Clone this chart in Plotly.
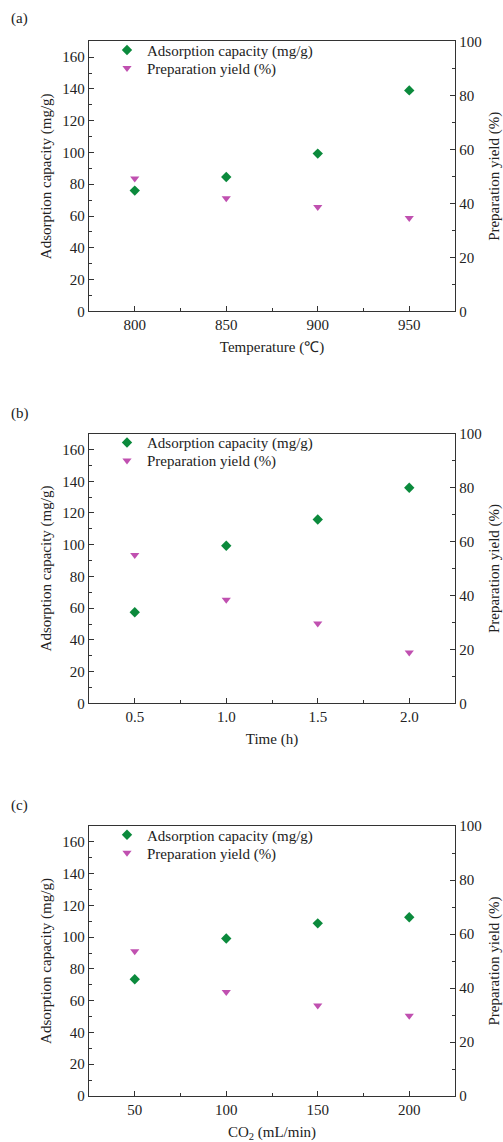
import plotly.graph_objects as go

# Panel (a): temperature
temp_x = [800, 850, 900, 950]
temp_ads = [76.0, 84.6, 99.3, 139.1]
temp_yield = [49.2, 41.9, 38.6, 34.6]

# Panel (b): time
time_x = [0.5, 1.0, 1.5, 2.0]
time_ads = [57.4, 99.3, 115.9, 135.9]
time_yield = [55.0, 38.4, 29.6, 18.8]

# Panel (c): CO2 flow
co2_x = [50, 100, 150, 200]
co2_ads = [73.5, 99.2, 108.7, 112.5]
co2_yield = [53.6, 38.5, 33.5, 29.7]

panel_labels = ["(a)", "(b)", "(c)"]
x_titles = ["Temperature (℃)", "Time (h)", "CO<sub>2</sub> (mL/min)"]
x_ranges = [[775, 975], [0.25, 2.25], [25, 225]]
x_ticks = [[800, 850, 900, 950], [0.5, 1.0, 1.5, 2.0], [50, 100, 150, 200]]
x_ticktext = [["800", "850", "900", "950"], ["0.5", "1.0", "1.5", "2.0"], ["50", "100", "150", "200"]]
x_minor = [25, 0.25, 25]

GREEN = "#0b8a3c"
MAGENTA = "#c050b0"
AXC = "#333333"
FONT = "Liberation Serif"
FS = 15
W, H = 503, 1142

# pixel geometry
px_left, px_right = 89, 455
panels_px = [(41.3, 311.3), (433.7, 703.3), (826, 1096)]
label_y_px = [19, 413, 805]

data = [(temp_x, temp_ads, temp_yield), (time_x, time_ads, time_yield), (co2_x, co2_ads, co2_yield)]

fig = go.Figure()
layout = dict(
    width=W, height=H, margin=dict(l=0, r=0, t=0, b=0, autoexpand=False),
    paper_bgcolor="white", plot_bgcolor="white",
    font=dict(family=FONT, size=FS, color="#222222"),
    annotations=[], showlegend=True,
)

def legkey(k):
    return "legend" if k == 1 else f"legend{k}"

for i, (xs, ads, yld) in enumerate(data):
    n = i + 1
    xa = "x" if n == 1 else f"x{n}"
    ya_l = f"y{2*n-1}" if n > 1 else "y"
    ya_r = f"y{2*n}"
    leg_a = legkey(2 * n - 1)
    leg_b = legkey(2 * n)
    fig.add_trace(go.Scatter(
        x=xs, y=ads, mode="markers", name="Adsorption capacity (mg/g)",
        marker=dict(symbol="diamond", size=8, color=GREEN),
        xaxis=xa, yaxis=ya_l, legend=leg_a))
    fig.add_trace(go.Scatter(
        x=xs, y=yld, mode="markers", name="Preparation yield (%)",
        marker=dict(symbol="triangle-down", size=8, color=MAGENTA),
        xaxis=xa, yaxis=ya_r, legend=leg_b))

    top, bot = panels_px[i]
    dom = [1 - bot / H, 1 - top / H]
    xkey = "xaxis" if n == 1 else f"xaxis{n}"
    ylkey = "yaxis" if n == 1 else f"yaxis{2*n-1}"
    yrkey = f"yaxis{2*n}"
    layout[xkey] = dict(
        domain=[px_left / W, px_right / W], anchor=ya_l, range=x_ranges[i],
        tickvals=x_ticks[i], ticktext=x_ticktext[i], ticks="inside", ticklen=5,
        tickcolor=AXC, showline=True, linecolor=AXC, linewidth=1.3, mirror=True,
        showgrid=False, zeroline=False, automargin=False,
        minor=dict(ticks="inside", ticklen=3, tickcolor=AXC, dtick=x_minor[i] * 2,
                   tick0=x_ticks[i][0] + x_minor[i], showgrid=False),
        title=dict(text=x_titles[i], standoff=9, font=dict(size=FS)),
        tickfont=dict(size=FS),
    )
    layout[ylkey] = dict(
        domain=dom, anchor=xa, range=[0, 170], tickvals=list(range(0, 161, 20)),
        ticks="inside", ticklen=5, tickcolor=AXC, showline=True, linecolor=AXC, linewidth=1.3,
        showgrid=False, zeroline=False, automargin=False,
        minor=dict(ticks="inside", ticklen=3, tickcolor=AXC, dtick=20, tick0=10, showgrid=False),
        title=dict(text="Adsorption capacity (mg/g)", standoff=7, font=dict(size=FS)),
        tickfont=dict(size=FS),
    )
    layout[yrkey] = dict(
        domain=dom, anchor=xa, overlaying=ya_l, side="right", range=[0, 100],
        tickvals=list(range(0, 101, 20)),
        ticks="inside", ticklen=5, tickcolor=AXC, showline=True, linecolor=AXC, linewidth=1.3,
        showgrid=False, zeroline=False, automargin=False,
        minor=dict(ticks="inside", ticklen=3, tickcolor=AXC, dtick=20, tick0=10, showgrid=False),
        title=dict(text="Preparation yield (%)", standoff=8, font=dict(size=FS)),
        tickfont=dict(size=FS),
    )
    for k, dy in ((leg_a, 9), (leg_b, 27)):
        layout[k] = dict(
            x=107 / W, xanchor="left", y=1 - (top + dy) / H, yanchor="middle",
            bgcolor="rgba(0,0,0,0)", borderwidth=0, font=dict(size=FS),
        )
    layout["annotations"].append(dict(
        text=panel_labels[i], xref="paper", yref="paper", x=9 / W, y=1 - label_y_px[i] / H,
        xanchor="left", yanchor="middle", showarrow=False, font=dict(size=FS)))

fig.update_layout(**layout)
fig.write_html("out.html")
